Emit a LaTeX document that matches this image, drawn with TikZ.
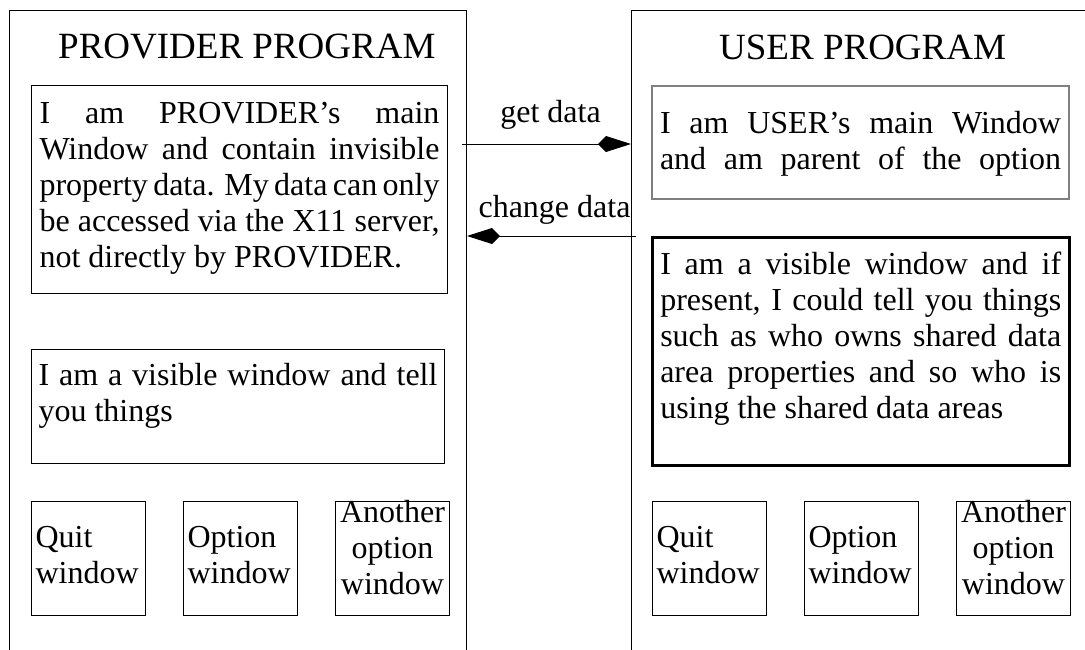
\documentclass[tikz,border=0pt]{standalone}
\usepackage{fontspec}
\setmainfont{Liberation Serif}
\usetikzlibrary{arrows.meta}
\usetikzlibrary{positioning}
\tikzset{prog/.style = {draw, line width=1pt, anchor=north west, inner sep=0}}
\tikzset{title/.style = {anchor=base west, inner sep=0, font=\fontsize{37}{44}\selectfont}}
\tikzset{win/.style = {draw, line width=1pt, anchor=north west, inner xsep=8pt, inner ysep=0pt, text width=400pt, align=justify}}
\tikzset{btn/.style = {draw, line width=1pt, inner xsep=4pt, inner ysep=0pt, text width=106pt, align=left, text height=46pt, text depth=68pt}}
\tikzset{more/.style = {align=center, text height=21pt, text depth=93pt}}
\tikzset{flow/.style = {line width=1pt, -{Kite[length=33pt, width=16pt, inset=8pt]}}}

\begin{document}
\begin{tikzpicture}[x=1pt, y=-1pt, font=\fontsize{32}{36}\selectfont]
        \clip (0,0) rectangle (1085,649);
        % the two programs, open at the bottom
        \node[prog, minimum width=457pt, minimum height=700pt] (prov) at (9,10) {};
        \node[prog, minimum width=500pt, minimum height=700pt] (user) at (631,10) {};
        \node[title] (provname) at (58,58) {PROVIDER PROGRAM};
        \node[title] (username) at (719,59) {USER PROGRAM};
        % provider windows
        \node[win, text height=38pt, text depth=170pt] (pmain) at (31,85) {I am PROVIDER’s main\linebreak Window and contain invisible\linebreak property data. My data can only\linebreak be accessed via the X11 server,\linebreak not directly by PROVIDER.};
        \node[win, text width=399pt, inner xsep=7pt, text height=36pt, text depth=78pt] (pvis) at (31,349) {I am a visible window and tell\linebreak you things};
        \node[btn, anchor=north west] (pquit) at (31,501) {Quit\\window};
        \node[btn, right=37pt of pquit] (popt) {Option\\window};
        \node[btn, more, right=37pt of popt] (pmore) {Another\\option\\window};
        % user windows
        \node[win, draw=gray, line width=2pt, text width=401pt, text height=47pt, text depth=66pt] (umain) at (651,85) {I am USER’s main Window\linebreak and am parent of the option\linebreak};
        \node[win, line width=2.5pt, text width=401pt, text height=37pt, text depth=191pt] (uvis) at (651,236) {I am a visible window and if\linebreak present, I could tell you things\linebreak such as who owns shared data\linebreak area properties and so who is\linebreak using the shared data areas};
        \node[btn, anchor=north west] (uquit) at (652,501) {Quit\\window};
        \node[btn, right=37pt of uquit] (uopt) {Option\\window};
        \node[btn, more, right=37pt of uopt] (umore) {Another\\option\\window};
        % property traffic
        \coordinate (getfrom) at (462,144);
        \coordinate (chgfrom) at (636,236);
        \draw[flow] (getfrom) -- (getfrom -| user.west) node[pos=0.5, anchor=base, xshift=4pt, yshift=22pt] {get data};
        \draw[flow] (chgfrom) -- (chgfrom -| prov.east) node[pos=0.5, anchor=base, xshift=3pt, yshift=19pt] {change data};
    \end{tikzpicture}
\end{document}
